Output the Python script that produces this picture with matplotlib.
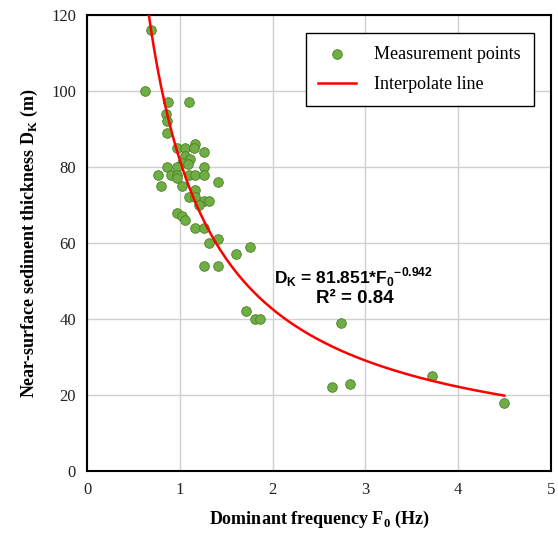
import numpy as np
import matplotlib.pyplot as plt

# measured dominant frequency (Hz) and sediment thickness (m)
freq = [0.69, 0.63, 0.87, 1.10, 0.85, 0.865, 0.86, 0.966, 1.056, 1.164,
        1.157, 1.26, 1.056, 1.11, 1.02, 1.09, 0.865, 0.966, 1.26, 0.76,
        0.91, 0.966, 1.10, 1.164, 1.26, 0.966, 1.41, 0.80, 1.02, 1.164,
        1.10, 1.164, 1.26, 1.31, 1.21, 0.966, 1.02, 1.056, 1.164, 1.26,
        1.31, 1.41, 1.76, 1.61, 1.26, 1.41, 1.71, 1.81, 1.86, 2.74,
        2.64, 2.83, 3.72, 4.50]
thick = [116, 100, 97, 97, 94, 92, 89, 85, 85, 86,
         85, 84, 83, 82, 81, 80.7, 80, 80, 80, 78,
         78, 78, 78, 78, 78, 77, 76, 75, 75, 74,
         72, 72, 71, 71, 70, 68, 67, 66, 64, 64,
         60, 61, 59, 57, 54, 54, 42, 40, 40, 39,
         22, 23, 25, 18]

# power-law fit reported on the chart
coef_a = 81.851
coef_b = -0.942

plt.rcParams['font.family'] = ['Liberation Serif', 'DejaVu Serif']
plt.rcParams['mathtext.fontset'] = 'custom'
plt.rcParams['mathtext.rm'] = 'Liberation Serif:bold'
plt.rcParams['mathtext.sf'] = 'Liberation Sans:bold'

fig = plt.figure(figsize=(5.58, 5.38), dpi=100)
ax = fig.add_axes([0.156, 0.1245, 0.831, 0.8475])

ax.grid(True, color='#d0d0d0', linewidth=1)
ax.set_axisbelow(True)

ax.scatter(freq, thick, s=48, color='#6fae42', edgecolor='#4d7f2a',
           linewidth=0.6, zorder=3, label='Measurement points')

xf = np.linspace(0.6, 4.5, 300)
ax.plot(xf, coef_a * xf ** coef_b, color='#ff0000', lw=1.8, zorder=4,
        label='Interpolate line')

ax.set_xlim(0, 5)
ax.set_ylim(0, 120)
ax.set_xticks(range(0, 6))
ax.set_yticks(range(0, 121, 20))
ax.tick_params(length=0, labelsize=12, pad=8, colors='#222222')
for s in ax.spines.values():
    s.set_linewidth(1.5)
    s.set_color('black')

ax.set_xlabel(r'Dominant frequency F$_\mathrm{0}$ (Hz)', fontsize=13,
              fontweight='bold', labelpad=8)
ax.set_ylabel(r'Near-surface sediment thickness D$_\mathrm{K}$ (m)',
              fontsize=13, fontweight='bold', labelpad=8)

ax.text(2.87, 51, r'D$_\mathsf{K}$ = 81.851*F$_\mathsf{0}$$^\mathsf{-0.942}$',
        family='Liberation Sans', fontweight='bold', fontsize=12.5,
        ha='center', va='center', zorder=5)
ax.text(2.89, 45.5, 'R² = 0.84', family='Liberation Sans',
        fontweight='bold', fontsize=13.5, ha='center', va='center', zorder=5)

leg = ax.legend(loc='upper right', bbox_to_anchor=(0.963, 0.96),
                fontsize=13, fancybox=False, edgecolor='black',
                framealpha=1, borderpad=0.7, labelspacing=0.75,
                handlelength=2.1, handletextpad=1.0, borderaxespad=0)
leg.get_frame().set_linewidth(1.0)

fig.savefig('out.png', dpi=100)
